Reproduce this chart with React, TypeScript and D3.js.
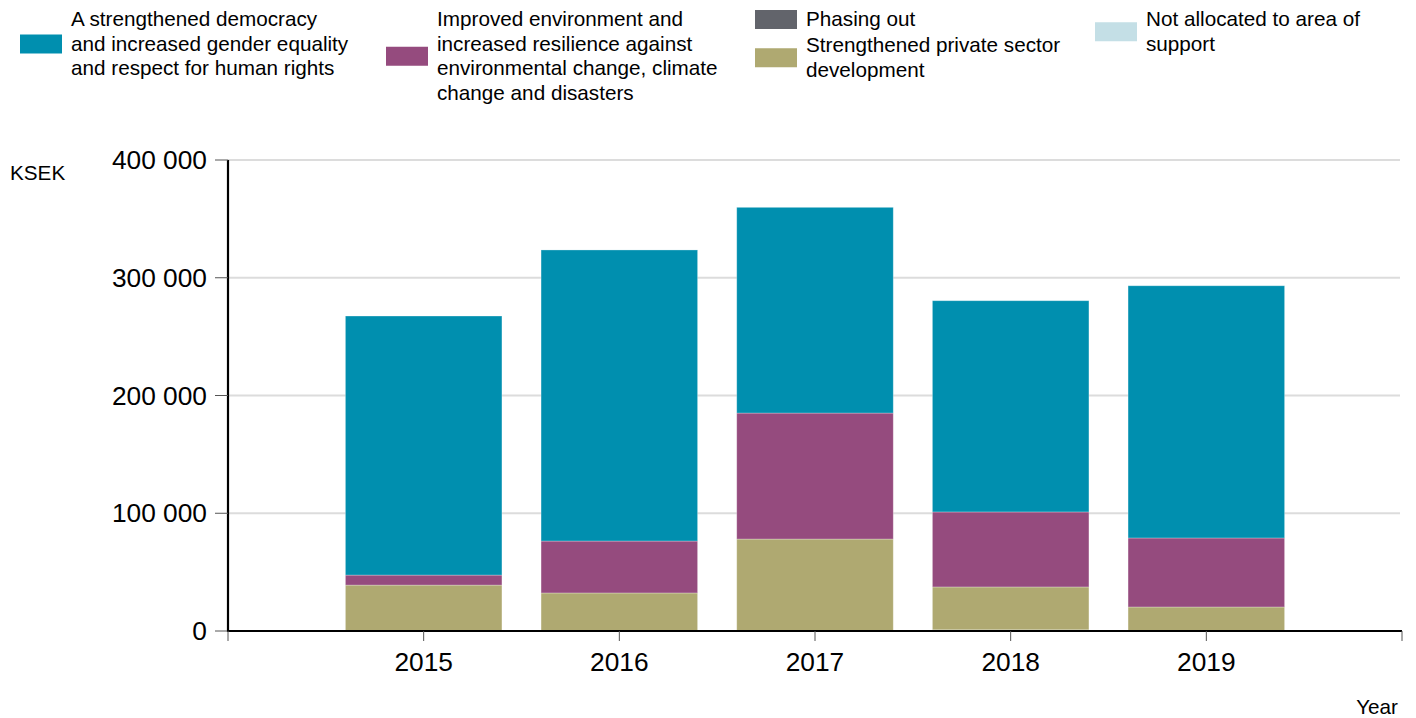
import React from "react";
import * as d3 from "d3";

const years = [2015, 2016, 2017, 2018, 2019];
const notAllocated = [0, 0, 0, 1000, 0];
const privateSector = [39000, 32300, 78100, 36400, 20400];
const phasingOut = [0, 0, 0, 0, 0];
const environment = [8500, 44100, 107000, 63700, 58600];
const democracy = [220000, 247200, 174700, 179400, 214200];
const yTicks = [0, 100000, 200000, 300000, 400000];

const seriesKeys = ["notAllocated", "privateSector", "phasingOut", "environment", "democracy"];
const seriesColors: Record<string, string> = {
  democracy: "#008FAF",
  environment: "#954B7E",
  phasingOut: "#62646B",
  privateSector: "#AFA971",
  notAllocated: "#C4DFE6",
};

const legendItems = [
  { key: "democracy", lines: ["A strengthened democracy", "and increased gender equality", "and respect for human rights"], x: 20, y: 19 },
  { key: "environment", lines: ["Improved environment and", "increased resilience against", "environmental change, climate", "change and disasters"], x: 386, y: 19 },
  { key: "phasingOut", lines: ["Phasing out"], x: 755, y: 19 },
  { key: "privateSector", lines: ["Strengthened private sector", "development"], x: 755, y: 45 },
  { key: "notAllocated", lines: ["Not allocated to area of", "support"], x: 1095, y: 19 },
];

const font = "'Liberation Sans', Arial, sans-serif";

export default function App() {
  const W = 1416, H = 718;
  const x = d3.scaleLinear().domain([2014, 2020]).range([228, 1402]);
  const y = d3.scaleLinear().domain([0, 400000]).range([631, 160]);
  const bw = (x(2015) - x(2014)) * 0.8;

  const table = years.map((yr, i) => ({
    year: yr,
    notAllocated: notAllocated[i],
    privateSector: privateSector[i],
    phasingOut: phasingOut[i],
    environment: environment[i],
    democracy: democracy[i],
  }));
  const stacked = d3.stack<any>().keys(seriesKeys)(table);
  const lh = 24.5;

  return (
    <svg width={W} height={H} style={{ position: "absolute", left: 0, top: 0, background: "#fff" }} fontFamily={font}>
      {/* legend */}
      {legendItems.map((it) => {
        const n = it.lines.length;
        const centerY = it.y + ((n - 1) * lh) / 2;
        return (
          <g key={it.key}>
            <rect x={it.x} y={centerY - 9} width={42} height={19} fill={seriesColors[it.key]} />
            {it.lines.map((l, j) => (
              <text key={j} x={it.x + 51} y={it.y + j * lh} dy="0.35em" fontSize={20.7} fill="#000">
                {l}
              </text>
            ))}
          </g>
        );
      })}

      {/* gridlines */}
      {yTicks.filter((t) => t > 0).map((t) => (
        <line key={t} x1={228} x2={1400} y1={y(t)} y2={y(t)} stroke="#dcdcdc" strokeWidth={2} />
      ))}

      {/* bars */}
      {stacked.map((s) => (
        <g key={s.key}>
          {s.map((d: any, i: number) =>
            d[1] - d[0] > 0 ? (
              <rect
                key={i}
                x={x(years[i]) - bw / 2}
                y={y(d[1])}
                width={bw}
                height={y(d[0]) - y(d[1])}
                fill={seriesColors[s.key]}
                stroke="rgba(255,255,255,0.35)"
                strokeWidth={0.8}
              />
            ) : null
          )}
        </g>
      ))}

      {/* y axis */}
      <line x1={228} x2={228} y1={160} y2={632} stroke="#000" strokeWidth={2.2} />
      {yTicks.map((t) => (
        <g key={t}>
          <line x1={215} x2={228} y1={y(t)} y2={y(t)} stroke="#555" strokeWidth={1} />
          <text x={207} y={y(t)} dy="0.35em" textAnchor="end" fontSize={26.3} fill="#000">
            {d3.format(",")(t).replace(/,/g, " ")}
          </text>
        </g>
      ))}
      <text x={10} y={173} dy="0.35em" fontSize={20.7} fill="#000">KSEK</text>

      {/* x axis */}
      <line x1={227} x2={1402} y1={631} y2={631} stroke="#000" strokeWidth={2.2} />
      {[2014, ...years, 2020].map((t) => (
        <line key={t} x1={x(t)} x2={x(t)} y1={631} y2={641} stroke="#555" strokeWidth={1} />
      ))}
      {years.map((t) => (
        <text key={t} x={x(t)} y={662} dy="0.35em" textAnchor="middle" fontSize={26.3} fill="#000">
          {t}
        </text>
      ))}
      <text x={1398} y={707} dy="0.35em" textAnchor="end" fontSize={20.7} fill="#000">Year</text>
    </svg>
  );
}
